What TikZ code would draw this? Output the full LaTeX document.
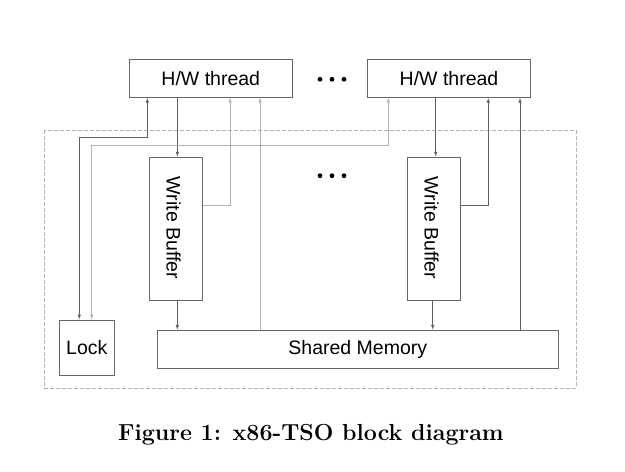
\documentclass[tikz,border=0pt]{standalone}
\usepackage{fontspec}
\newfontfamily\arial{Liberation Sans}
\usetikzlibrary{arrows.meta}
\begin{document}
\begin{tikzpicture}[x=1pt,y=-1pt,
  blk/.style={draw=gray!80!black, line width=0.8pt, inner sep=0pt, font=\arial\fontsize{19.5}{23}\selectfont},
  conn/.style={draw=gray!75!black, line width=0.8pt, -{Latex[length=5pt,width=3.5pt]}},
  conn2/.style={draw=gray!75!black, line width=0.8pt, {Latex[length=5pt,width=3.5pt]}-{Latex[length=5pt,width=3.5pt]}},
  light/.style={draw=gray!60},
  dotc/.style={fill=black}]
\useasboundingbox (0,0) rectangle (625,472);
% dashed enclosure
\draw[gray!60, dashed, line width=0.7pt, dash pattern=on 4pt off 2pt] (44.3,130) rectangle (576,388.3);
% nodes
\node[blk, minimum width=163pt, minimum height=38pt] (t1) at (210.8,78.3) {H/W thread};
\node[blk, minimum width=162.6pt, minimum height=38pt] (t2) at (449,78.3) {H/W thread};
\node[blk, minimum width=52.6pt, minimum height=142.7pt] (wb1) at (176,228.6) {};
\node[blk, draw=none, rotate=-90] (wb1t) at (173.5,228) {Write Buffer};
\node[blk, minimum width=53pt, minimum height=142.7pt] (wb2) at (433.8,228.6) {};
\node[blk, draw=none, rotate=-90] (wb2t) at (431.5,228) {Write Buffer};
\node[blk, minimum width=55pt, minimum height=55.3pt] (lock) at (86.8,347.6) {Lock};
\node[blk, minimum width=401pt, minimum height=38pt] (sm) at (357.8,349.3) {Shared Memory};
% dots
\foreach \x in {320,332,344} {
  \fill (\x,79.3) circle (2.4pt);
  \fill (\x,175.7) circle (2.4pt);
}
% helper coordinates
\coordinate (a1) at (177.3,0);
\coordinate (a2) at (435.7,0);
\coordinate (b2) at (432.7,0);
\coordinate (r1) at (230,205);
\coordinate (r2) at (488.3,205);
\coordinate (s1) at (260,0);
\coordinate (s2) at (520,0);
\coordinate (p1) at (147.3,137.7);
\coordinate (q1) at (79.3,137.7);
\coordinate (p2) at (388.3,145);
\coordinate (q2) at (91.7,145);
% thread -> write buffer
\draw[conn] (t1.south -| a1) -- (wb1.north -| a1);
\draw[conn] (t2.south -| a2) -- (wb2.north -| a2);
% write buffer -> shared memory
\draw[conn] (wb1.south -| a1) -- (sm.north -| a1);
\draw[conn] (wb2.south -| b2) -- (sm.north -| b2);
% write buffer -> thread (forwarding)
\draw[conn, light] (wb1.east |- r1) -- (r1) -- (t1.south -| r1);
\draw[conn] (wb2.east |- r2) -- (r2) -- (t2.south -| r2);
% shared memory -> thread
\draw[conn, light] (sm.north -| s1) -- (t1.south -| s1);
\draw[conn] (sm.north -| s2) -- (t2.south -| s2);
% threads <-> lock
\draw[conn2] (t1.south -| p1) -- (p1) -- (q1) -- (lock.north -| q1);
\draw[conn2, light] (t2.south -| p2) -- (p2) -- (q2) -- (lock.north -| q2);
% caption
\node[font=\bfseries\fontsize{23.2}{27}\selectfont, anchor=base] (cap) at (311,440) {Figure 1: x86-TSO block diagram};
\end{tikzpicture}
\end{document}
